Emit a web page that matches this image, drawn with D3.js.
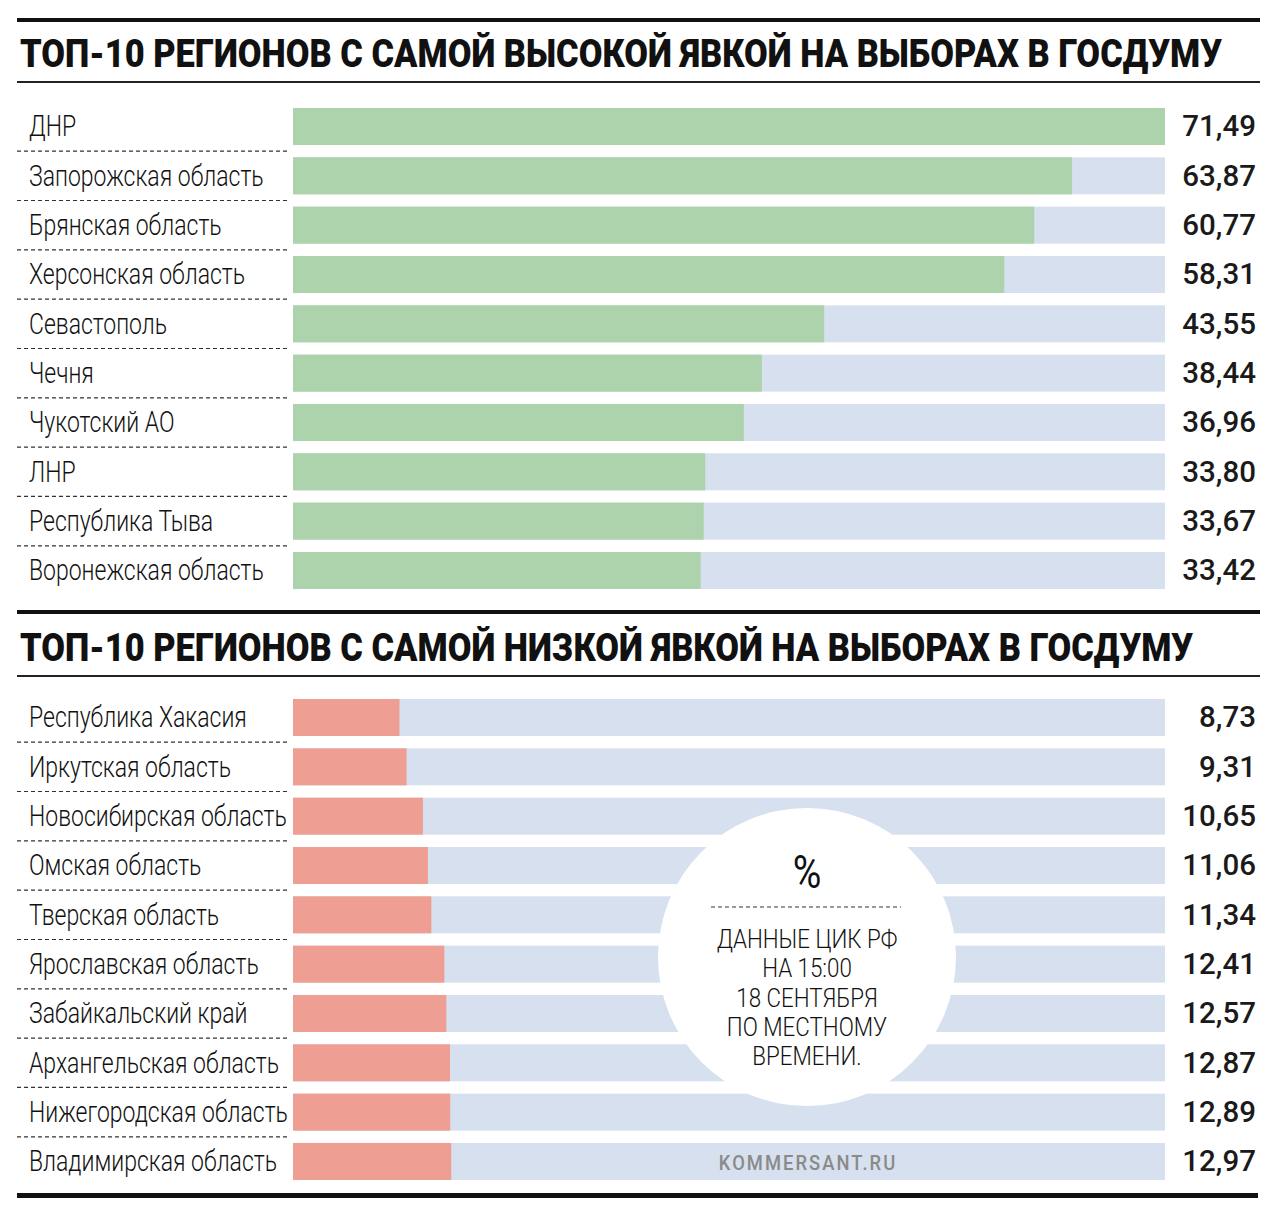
<!DOCTYPE html>
<html><head><meta charset="utf-8">
<script src="https://cdn.jsdelivr.net/npm/d3@7"></script>
<style>body{margin:0;background:#fff}svg{display:block}</style>
</head><body>
<svg id="c" width="1280" height="1215"></svg>
<script>
const titleTop = "ТОП-10 РЕГИОНОВ С САМОЙ ВЫСОКОЙ ЯВКОЙ НА ВЫБОРАХ В ГОСДУМУ";
const titleBottom = "ТОП-10 РЕГИОНОВ С САМОЙ НИЗКОЙ ЯВКОЙ НА ВЫБОРАХ В ГОСДУМУ";
const topRegions = ["ДНР","Запорожская область","Брянская область","Херсонская область","Севастополь","Чечня","Чукотский АО","ЛНР","Республика Тыва","Воронежская область"];
const topValues = [71.49,63.87,60.77,58.31,43.55,38.44,36.96,33.80,33.67,33.42];
const bottomRegions = ["Республика Хакасия","Иркутская область","Новосибирская область","Омская область","Тверская область","Ярославская область","Забайкальский край","Архангельская область","Нижегородская область","Владимирская область"];
const bottomValues = [8.73,9.31,10.65,11.06,11.34,12.41,12.57,12.87,12.89,12.97];
const noteLines = ["ДАННЫЕ ЦИК РФ","НА 15:00","18 СЕНТЯБРЯ","ПО МЕСТНОМУ","ВРЕМЕНИ."];
const source = "KOMMERSANT.RU";

const svg = d3.select("#c");
const fmt = v => d3.format(".2f")(v).replace(".", ",");
const x = d3.scaleLinear().domain([0, d3.max(topValues)]).range([293, 1165]);
const labelFont = "Roboto, 'Liberation Sans', sans-serif";

function panel(ruleY, titleY, thinY, barsY, title, regions, values, color) {
  const g = svg.append("g");
  g.append("rect").attr("x",17).attr("y",ruleY-2).attr("width",1243).attr("height",4).attr("fill","#111");
  const t = g.append("text").attr("x",0).attr("y",titleY).text(title)
    .attr("font-family",labelFont).attr("font-weight",900).attr("font-size",38).attr("fill","#111");
  g.append("rect").attr("x",17).attr("y",thinY).attr("width",1243).attr("height",2).attr("fill","#222");
  const step = 49.33, start = barsY;
  const y = d3.scaleBand().domain(regions).range([start - step*0.125, start - step*0.125 + step*10])
    .paddingInner(0.25).paddingOuter(0.125);
  const rows = g.selectAll("g.row").data(regions.map((r,i)=>({r, v: values[i], i}))).join("g");
  rows.append("rect").attr("x",x(0)).attr("y",d=>y(d.r)).attr("width",x.range()[1]-x(0)).attr("height",y.bandwidth()).attr("fill","#d6e0ee");
  rows.append("rect").attr("x",x(0)).attr("y",d=>y(d.r)).attr("width",d=>x(d.v)-x(0)).attr("height",y.bandwidth()).attr("fill",color);
  rows.append("text").attr("class","lbl").attr("x",29).attr("y",d=>y(d.r)+y.bandwidth()/2+10)
    .text(d=>d.r).attr("font-family",labelFont).attr("font-weight",300).attr("font-size",29).attr("fill","#111");
  rows.append("text").attr("x",1256).attr("y",d=>y(d.r)+y.bandwidth()/2+10).attr("text-anchor","end")
    .text(d=>fmt(d.v)).attr("font-family",labelFont).attr("font-weight",500).attr("font-size",29.5).attr("fill","#1a1a1a");
  rows.filter(d=>d.i<9).append("line").attr("x1",17).attr("x2",290)
    .attr("y1",d=>y(d.r)+y.bandwidth()+(y.step()-y.bandwidth())/2).attr("y2",d=>y(d.r)+y.bandwidth()+(y.step()-y.bandwidth())/2)
    .attr("stroke","#333").attr("stroke-width",1.2).attr("stroke-dasharray","4,3");
  return {g, t, y};
}

const p1 = panel(20, 67, 81, 108, titleTop, topRegions, topValues, "#acd3ab");
const p2 = panel(612, 661, 675, 699, titleBottom, bottomRegions, bottomValues, "#ee9e92");

// title scaling so top title spans 20..1222
const tw = p1.t.node().getComputedTextLength();
const ts = 1202 / tw;
[p1.t, p2.t].forEach(t => t.attr("transform", `translate(20,0) scale(${ts},1)`));

// label horizontal condense: longest label fits 29..288
let maxW = 0;
svg.selectAll("text.lbl").each(function(){ maxW = Math.max(maxW, this.getComputedTextLength()); });
const ls = 259 / maxW;
svg.selectAll("text.lbl").attr("transform", function(){ const xx = +d3.select(this).attr("x"); return `translate(${xx*(1-ls)},0) scale(${ls},1)`; });

// note circle
const cx = 807, cy = 957;
const note = svg.append("g");
note.append("circle").attr("cx",cx).attr("cy",cy).attr("r",149).attr("fill","#fff");
note.append("text").attr("x",cx).attr("y",888).attr("text-anchor","middle").text("%")
  .attr("font-family",labelFont).attr("font-weight",400).attr("font-size",46).attr("fill","#111")
  .attr("transform",`translate(${cx*(1-0.85)},0) scale(0.85,1)`);
note.append("line").attr("x1",711).attr("x2",901).attr("y1",907).attr("y2",907)
  .attr("stroke","#333").attr("stroke-width",1.2).attr("stroke-dasharray","4,3");
note.selectAll("text.n").data(noteLines).join("text").attr("class","n")
  .attr("x",cx).attr("y",(d,i)=>948+i*29.3).attr("text-anchor","middle").text(d=>d)
  .attr("font-family",labelFont).attr("font-weight",300).attr("font-size",26).attr("fill","#111")
  .attr("transform",`translate(${cx*(1-0.86)},0) scale(0.86,1)`);

svg.append("text").attr("x",808).attr("y",1170).attr("text-anchor","middle").text(source)
  .attr("font-family",labelFont).attr("font-weight",500).attr("font-size",20).attr("letter-spacing",2.2).attr("fill","#8a8a8a")
  .attr("transform",`translate(${808*(1-0.92)},0) scale(0.92,1)`);

svg.append("rect").attr("x",17).attr("y",1193).attr("width",1241).attr("height",5).attr("fill","#111");
</script>
</body></html>
